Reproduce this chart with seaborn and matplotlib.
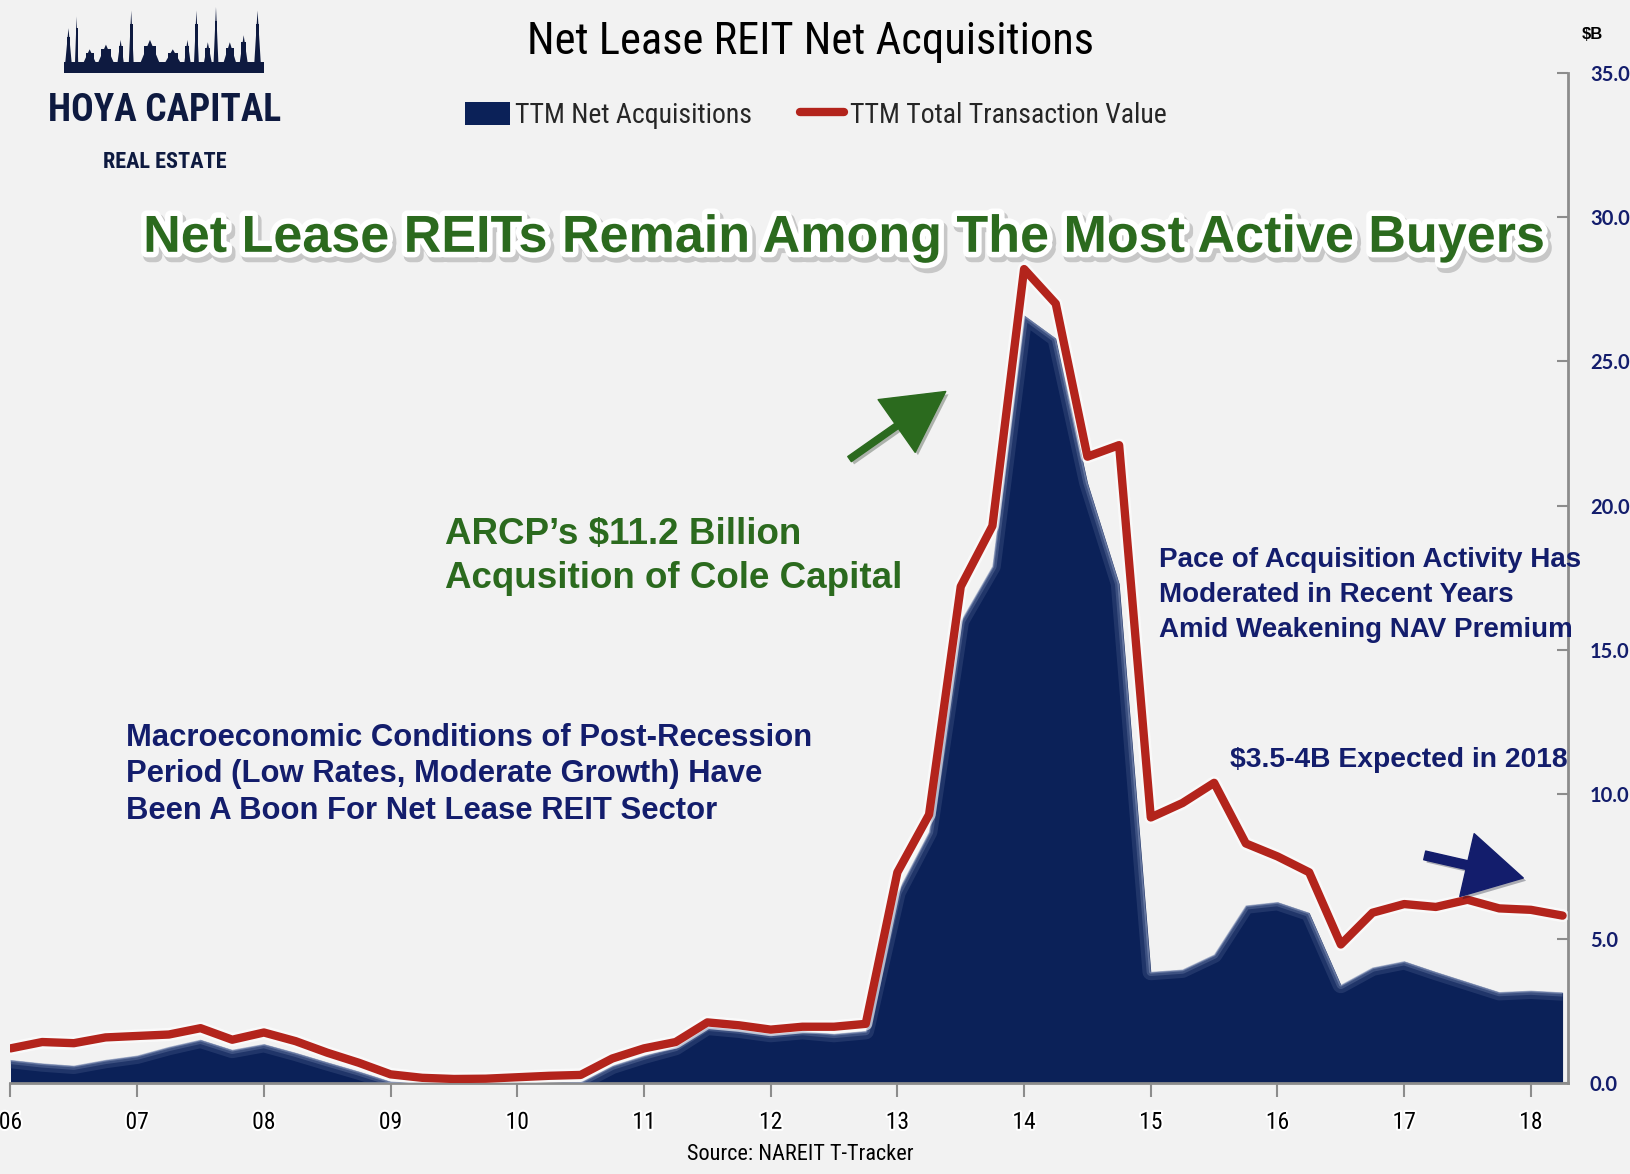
import numpy as np
import pandas as pd
import matplotlib
matplotlib.use("Agg")
import matplotlib.pyplot as plt
import matplotlib.patheffects as pe
from matplotlib import font_manager
from matplotlib.lines import Line2D
from matplotlib.patches import Patch, Rectangle, Polygon, FancyArrowPatch
import seaborn as sns

# ---------------- data ----------------
quarters = np.arange(2006.0, 2018.26, 0.25)  # quarterly observations 2006Q1 .. 2018Q2

net_acquisitions = [
    0.80, 0.68, 0.60, 0.80, 0.95, 1.25, 1.50, 1.15, 1.35, 1.05, 0.72, 0.40,
    0.05, 0.00, 0.00, 0.00, 0.00, 0.00, 0.03, 0.60, 0.95, 1.25, 1.95, 1.85,
    1.70, 1.80, 1.70, 1.80, 6.60, 8.70, 16.0, 17.9, 26.6, 25.8, 20.8, 17.3,
    3.85, 3.93, 4.45, 6.15, 6.27, 5.90, 3.40, 4.00, 4.22, 3.85, 3.50, 3.15,
    3.20, 3.14,
]

total_transaction_value = [
    1.20, 1.42, 1.38, 1.58, 1.63, 1.68, 1.90, 1.50, 1.75, 1.45, 1.05, 0.70,
    0.30, 0.18, 0.14, 0.15, 0.20, 0.25, 0.28, 0.85, 1.20, 1.42, 2.10, 2.00,
    1.85, 1.95, 1.95, 2.05, 7.30, 9.30, 17.2, 19.3, 28.2, 27.0, 21.7, 22.1,
    9.20, 9.70, 10.4, 8.30, 7.85, 7.30, 4.80, 5.90, 6.20, 6.10, 6.35, 6.05,
    6.00, 5.80,
]

year_ticks = list(range(2006, 2019))
year_labels = ["06", "07", "08", "09", "10", "11", "12", "13", "14", "15", "16", "17", "18"]
y_ticks = [0, 5, 10, 15, 20, 25, 30, 35]

df = pd.DataFrame({"t": quarters, "net": net_acquisitions, "total": total_transaction_value})

# ---------------- style ----------------
sns.set_theme(style="white")
BG = "#f2f2f2"
NAVY = "#0b2158"
TXTNAVY = "#131d6c"
RED = "#b3241c"
GREEN = "#2b6a1e"
GRAY = "#8c8c8c"

available = {f.name for f in font_manager.fontManager.ttflist}
def pick(*names):
    for n in names:
        if n in available:
            return n
    return "DejaVu Sans"

NARROW = pick("Liberation Sans Narrow", "DejaVu Sans Condensed", "Roboto Condensed", "Open Sans Condensed", "Liberation Sans")
BOLD = pick("Liberation Sans", "Roboto", "DejaVu Sans")
plt.rcParams["font.family"] = [BOLD, "DejaVu Sans"]

fig = plt.figure(figsize=(16.3, 11.74), dpi=100, facecolor=BG)
ax = fig.add_axes([0.00644, 0.0775, 0.9553, 0.8605])
ax.set_facecolor(BG)

# area (net acquisitions)
poly = ax.fill_between(df["t"], 0, df["net"], color=NAVY, lw=0, zorder=2)
for lw, col, a in [(12, "#6c7fa8", 0.22), (6, "#8393bb", 0.30), (2.5, "#a3b0cf", 0.40)]:
    ln, = ax.plot(df["t"], df["net"], color=col, lw=lw, alpha=a, zorder=3, solid_joinstyle="round")
    ln.set_clip_path(poly.get_paths()[0], transform=ax.transData)

# red line (total transaction value)
sns.lineplot(data=df, x="t", y="total", ax=ax, color=RED, lw=6, zorder=5, legend=False)
red_line = ax.lines[-1]
red_line.set_solid_joinstyle("round")
red_line.set_solid_capstyle("round")
red_line.set_path_effects([pe.Stroke(linewidth=9.5, foreground="white", alpha=0.6), pe.Normal()])

ax.set_xlim(2006.0, 2018.29)
ax.set_ylim(0, 35)
ax.set_xlabel("")
ax.set_ylabel("")

for s in ["top", "left"]:
    ax.spines[s].set_visible(False)
for s in ["right", "bottom"]:
    ax.spines[s].set_color(GRAY)
    ax.spines[s].set_linewidth(2)

ax.yaxis.tick_right()
ax.set_yticks(y_ticks)
ax.set_yticklabels([f"{v:.1f}" for v in y_ticks])
ax.tick_params(axis="y", which="both", right=True, left=False, direction="in", length=8, width=1.5,
               color=GRAY, pad=16, labelsize=14.5, labelcolor=TXTNAVY)
for lab in ax.get_yticklabels():
    lab.set_fontfamily([pick("Lato", "Open Sans", "DejaVu Sans")])
    lab.set_fontweight("bold")

ax.set_xticks(year_ticks)
ax.set_xticklabels(year_labels)
ax.tick_params(axis="x", bottom=True, direction="out", length=10, width=1.5, color=GRAY, pad=10,
               labelsize=17, labelcolor="black")
for lab in ax.get_xticklabels():
    lab.set_fontfamily([NARROW, "DejaVu Sans"])
    lab.set_path_effects([pe.withStroke(linewidth=3, foreground="white")])
ax.grid(False)

# ---------------- texts ----------------
fig.text(0.4975, 0.9646, "Net Lease REIT Net Acquisitions", ha="center", va="center",
         fontsize=32, family=[NARROW, "DejaVu Sans"], color="black")
fig.text(0.977, 0.9708, "$B", ha="center", va="center", fontsize=12, fontweight="bold", color="black")

handles = [Patch(facecolor=NAVY, edgecolor="none"),
           Line2D([0], [0], color=RED, lw=6, solid_capstyle="round")]
leg = fig.legend(handles, ["TTM Net Acquisitions", "TTM Total Transaction Value"], loc="center",
                 bbox_to_anchor=(0.5005, 0.9017), ncol=2, frameon=False, handlelength=1.6,
                 handleheight=0.9, handletextpad=0.2, columnspacing=1.7,
                 prop={"family": NARROW, "size": 20})

fig.text(0.518, 0.797, "Net Lease REITs Remain Among The Most Active Buyers", ha="center", va="center",
         fontsize=37.5, fontweight="bold", color=GREEN,
         path_effects=[pe.Stroke(offset=(2, -3), linewidth=9, foreground="#777777", alpha=0.35),
                       pe.Stroke(linewidth=8, foreground="white"), pe.Normal()])

fig.text(0.273, 0.526, "ARCP’s $11.2 Billion\nAcqusition of Cole Capital", ha="left", va="center",
         fontsize=26.5, fontweight="bold", color=GREEN, linespacing=1.35)

fig.text(0.711, 0.4935, "Pace of Acquisition Activity Has\nModerated in Recent Years\nAmid Weakening NAV Premium",
         ha="left", va="center", fontsize=20, fontweight="bold", color=TXTNAVY, linespacing=1.45)

fig.text(0.0772, 0.3404, "Macroeconomic Conditions of Post-Recession\nPeriod (Low Rates, Moderate Growth) Have\nBeen A Boon For Net Lease REIT Sector",
         ha="left", va="center", fontsize=22.3, fontweight="bold", color=TXTNAVY, linespacing=1.29)

fig.text(0.9617, 0.3524, "$3.5-4B Expected in 2018", ha="right", va="center", fontsize=20.3,
         fontweight="bold", color=TXTNAVY)

fig.text(0.491, 0.0168, "Source: NAREIT T-Tracker", ha="center", va="center", fontsize=16,
         family=[NARROW, "DejaVu Sans"], color="black")

# arrows
fig.patches.append(FancyArrowPatch(
    (0.5198, 0.6076), (0.5816, 0.6679), transform=fig.transFigure,
    arrowstyle="simple,head_length=1.35,head_width=1.45,tail_width=0.14", mutation_scale=32,
    color=GREEN, path_effects=[pe.SimplePatchShadow(offset=(2, -2), alpha=0.3), pe.Normal()]))
fig.patches.append(FancyArrowPatch(
    (0.8724, 0.2719), (0.9362, 0.2516), transform=fig.transFigure,
    arrowstyle="simple,head_length=1.3,head_width=1.45,tail_width=0.2", mutation_scale=32,
    color=TXTNAVY, path_effects=[pe.SimplePatchShadow(offset=(2, -2), alpha=0.3), pe.Normal()]))

# ---------------- logo ----------------
LOGO = "#0e1a40"
fig.text(0.101, 0.906, "HOYA CAPITAL", ha="center", va="center", fontsize=27, fontweight="bold",
         family=[NARROW, "DejaVu Sans"], color=LOGO)
fig.text(0.101, 0.862, "REAL ESTATE", ha="center", va="center", fontsize=16, fontweight="bold",
         family=[NARROW, "DejaVu Sans"], color=LOGO)
fig.patches.append(Rectangle((0.039, 0.938), 0.123, 0.009, transform=fig.transFigure,
                             color=LOGO, lw=0))
spires = [(0.040, 0.030, 0.004), (0.046, 0.040, 0.002), (0.051, 0.012, 0.008), (0.060, 0.016, 0.010),
          (0.072, 0.020, 0.004), (0.079, 0.045, 0.003), (0.086, 0.020, 0.012), (0.101, 0.012, 0.010),
          (0.113, 0.020, 0.004), (0.119, 0.045, 0.003), (0.125, 0.018, 0.005), (0.131, 0.048, 0.003),
          (0.137, 0.018, 0.008), (0.147, 0.024, 0.005), (0.156, 0.045, 0.004)]
for x0, h, w in spires:
    fig.patches.append(Polygon([(x0, 0.946), (x0 + w / 2, 0.946 + h), (x0 + w, 0.946)],
                               closed=True, transform=fig.transFigure, color=LOGO, lw=0))
    fig.patches.append(Rectangle((x0 + w * 0.2, 0.946), w * 0.6, h * 0.75, transform=fig.transFigure,
                                 color=LOGO, lw=0))

fig.savefig("out.png", dpi=100, facecolor=BG)
